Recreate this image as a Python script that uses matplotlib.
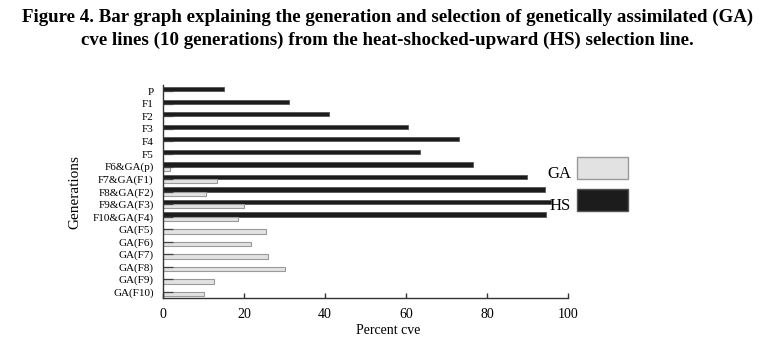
import numpy as np
import matplotlib
matplotlib.use('Agg')
import matplotlib.pyplot as plt
from matplotlib.patches import Rectangle

# data
generations = ['P', 'F1', 'F2', 'F3', 'F4', 'F5',
               'F6&GA(p)', 'F7&GA(F1)', 'F8&GA(F2)', 'F9&GA(F3)', 'F10&GA(F4)',
               'GA(F5)', 'GA(F6)', 'GA(F7)', 'GA(F8)', 'GA(F9)', 'GA(F10)']
hs_values = [15.1, 31.1, 41.1, 60.6, 73.0, 63.4,
             76.6, 89.7, 94.3, 95.7, 94.4,
             np.nan, np.nan, np.nan, np.nan, np.nan, np.nan]
ga_values = [np.nan, np.nan, np.nan, np.nan, np.nan, np.nan,
             1.9, 13.3, 10.7, 20.1, 18.6,
             25.4, 21.7, 26.0, 30.2, 12.7, 10.1]
xticks = [0, 20, 40, 60, 80, 100]

plt.rcParams['font.family'] = ['Liberation Serif', 'DejaVu Serif']

W, H = 767, 349
fig = plt.figure(figsize=(W / 100, H / 100), dpi=100)
ax = fig.add_axes([162.7 / W, 1 - 298.3 / H, 405.6 / W, 213.3 / H])

ypos = np.arange(len(generations))
bh = 0.34
hs_col = '#1c1c1c'
ga_col = '#e2e2e2'
ax.barh(ypos - bh / 2, hs_values, height=bh, color=hs_col, edgecolor='#555555', linewidth=0.6)
ax.barh(ypos + bh / 2, ga_values, height=bh, color=ga_col, edgecolor='#9a9a9a', linewidth=0.8)

ax.set_xlim(0, 100)
ax.set_ylim(len(generations) - 0.5, -0.5)
ax.set_yticks(ypos)
ax.set_yticklabels(generations, fontsize=8)
ax.set_xticks(xticks)
ax.set_xticklabels([str(t) for t in xticks], fontsize=10)

for s in ['top', 'right']:
    ax.spines[s].set_visible(False)
for s in ['left', 'bottom']:
    ax.spines[s].set_color('#333333')
    ax.spines[s].set_linewidth(1)
ax.tick_params(axis='y', direction='in', length=7.2, width=0.9, color='#444444', pad=6.5)
ax.tick_params(axis='x', direction='in', length=3.6, width=1, color='#333333', pad=7)

ax.set_xlabel('Percent cve', fontsize=10)
ax.xaxis.set_label_coords(0.555, -0.12)
ax.set_ylabel('Generations', fontsize=11)
ax.yaxis.set_label_coords(-0.2, 0.5)

# legend (patches with labels on their left)
for y0, col, ec, lab in [(157.3, ga_col, '#9a9a9a', 'GA'), (189.3, hs_col, '#555555', 'HS')]:
    fig.add_artist(Rectangle((576.7 / W, 1 - (y0 + 22) / H), 51 / W, 22 / H,
                             transform=fig.transFigure, facecolor=col, edgecolor=ec, linewidth=1))
    fig.text(571 / W, 1 - (y0 + 21) / H, lab, ha='right', va='baseline', fontsize=12)

fig.text(0.505, 1 - 17 / H, 'Figure 4. Bar graph explaining the generation and selection of genetically assimilated (GA)',
         ha='center', va='center', fontsize=13.6, fontweight='bold')
fig.text(0.505, 1 - 40 / H, 'cve lines (10 generations) from the heat-shocked-upward (HS) selection line.',
         ha='center', va='center', fontsize=13.6, fontweight='bold')

fig.savefig('out.png', dpi=100)
